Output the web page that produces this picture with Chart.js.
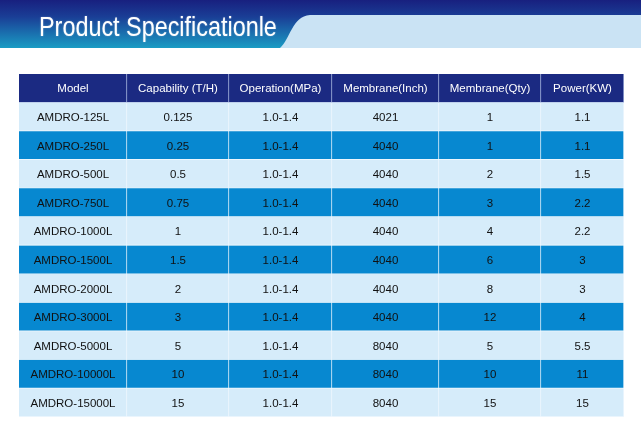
<!DOCTYPE html>
<html>
<head>
<meta charset="utf-8">
<script src="https://cdn.jsdelivr.net/npm/chart.js@4.4.1/dist/chart.umd.min.js"></script>
<style>
    html, body { margin: 0; padding: 0; background: #fff; }
    #wrap { position: relative; width: 641px; height: 429px; }
    #title {
        position: absolute; left: 39px; top: 13px;
        font: 28px "Liberation Sans", Arial, sans-serif; line-height: 28px;
        color: #fff; white-space: nowrap;
        transform: scaleX(0.835); transform-origin: 0 0;
        text-shadow: 0 0 2px rgba(255,255,255,0.35);
    }
</style>
</head>
<body>
<div id="wrap">
    <canvas id="specTable" width="641" height="429"></canvas>
    <div id="title">Product Specificationle</div>
</div>
<script>
// table content
const columns = ["Model", "Capability (T/H)", "Operation(MPa)", "Membrane(Inch)", "Membrane(Qty)", "Power(KW)"];
const models = ["AMDRO-125L", "AMDRO-250L", "AMDRO-500L", "AMDRO-750L", "AMDRO-1000L", "AMDRO-1500L",
    "AMDRO-2000L", "AMDRO-3000L", "AMDRO-5000L", "AMDRO-10000L", "AMDRO-15000L"];
const capability = ["0.125", "0.25", "0.5", "0.75", "1", "1.5", "2", "3", "5", "10", "15"];
const operation = ["1.0-1.4", "1.0-1.4", "1.0-1.4", "1.0-1.4", "1.0-1.4", "1.0-1.4",
    "1.0-1.4", "1.0-1.4", "1.0-1.4", "1.0-1.4", "1.0-1.4"];
const membraneInch = ["4021", "4040", "4040", "4040", "4040", "4040", "4040", "4040", "8040", "8040", "8040"];
const membraneQty = ["1", "1", "2", "3", "4", "6", "8", "12", "5", "10", "15"];
const power = ["1.1", "1.1", "1.5", "2.2", "2.2", "3", "3", "4", "5.5", "11", "15"];

// layout: relative column widths
const colWidths = [108, 102, 103, 107, 102, 83];

const cellValues = [models, capability, operation, membraneInch, membraneQty, power];
const rowLabels = ["header", ...models];
const edges = [0];
colWidths.forEach(w => edges.push(edges[edges.length - 1] + w));

const rowColor = i => i === 0 ? "#1b2a82" : (i % 2 === 1 ? "#d6ecfa" : "#0788d0");

const datasets = columns.map((col, c) => ({
    label: col,
    data: rowLabels.map(r => ({ y: r, x: [edges[c], edges[c + 1]] })),
    backgroundColor: ctx => rowColor(ctx.dataIndex),
    borderColor: ctx => ctx.dataIndex === 0 ? "rgba(170,185,225,0.9)" : "rgba(235,246,253,0.75)",
    borderWidth: { right: 1, bottom: 1, left: 0, top: 0 },
    borderSkipped: false,
    categoryPercentage: 1,
    barPercentage: 1
}));

// banner at the top of the page
const bannerPlugin = {
    id: "banner",
    beforeDraw(chart) {
        const ctx = chart.ctx;
        ctx.save();
        const g = ctx.createLinearGradient(0, 0, 0, 48);
        g.addColorStop(0, "#18207f");
        g.addColorStop(0.35, "#1a3e96");
        g.addColorStop(1, "#1a9cc4");
        ctx.fillStyle = g;
        ctx.fillRect(0, 0, chart.width, 48);
        ctx.fillStyle = "#cae3f4";
        ctx.beginPath();
        ctx.moveTo(280, 48);
        ctx.bezierCurveTo(290, 40, 292, 16, 310, 15);
        ctx.lineTo(chart.width, 15);
        ctx.lineTo(chart.width, 48);
        ctx.closePath();
        ctx.fill();
        ctx.restore();
    }
};

// cell texts
const cellTextPlugin = {
    id: "cellText",
    afterDatasetsDraw(chart) {
        const { ctx, scales: { x, y } } = chart;
        ctx.save();
        ctx.textAlign = "center";
        ctx.textBaseline = "middle";
        ctx.font = '11.5px "Liberation Sans", Arial, sans-serif';
        columns.forEach((col, c) => {
            const cx = x.getPixelForValue((edges[c] + edges[c + 1]) / 2);
            ctx.fillStyle = "#ffffff";
            ctx.fillText(col, cx, y.getPixelForValue(0) + 1);
            ctx.fillStyle = "#111111";
            cellValues[c].forEach((v, i) => {
                ctx.fillText(v, cx, y.getPixelForValue(i + 1) + 1);
            });
        });
        ctx.restore();
    }
};

new Chart(document.getElementById("specTable"), {
    type: "bar",
    data: { labels: rowLabels, datasets },
    options: {
        indexAxis: "y",
        responsive: false,
        animation: false,
        layout: { padding: { left: 19, right: 17, top: 74, bottom: 12 } },
        scales: {
            x: { type: "linear", display: false, min: 0, max: edges[edges.length - 1] },
            y: { type: "category", display: false, offset: true, stacked: true }
        },
        plugins: { legend: { display: false }, tooltip: { enabled: false } }
    },
    plugins: [bannerPlugin, cellTextPlugin]
});
</script>
</body>
</html>
